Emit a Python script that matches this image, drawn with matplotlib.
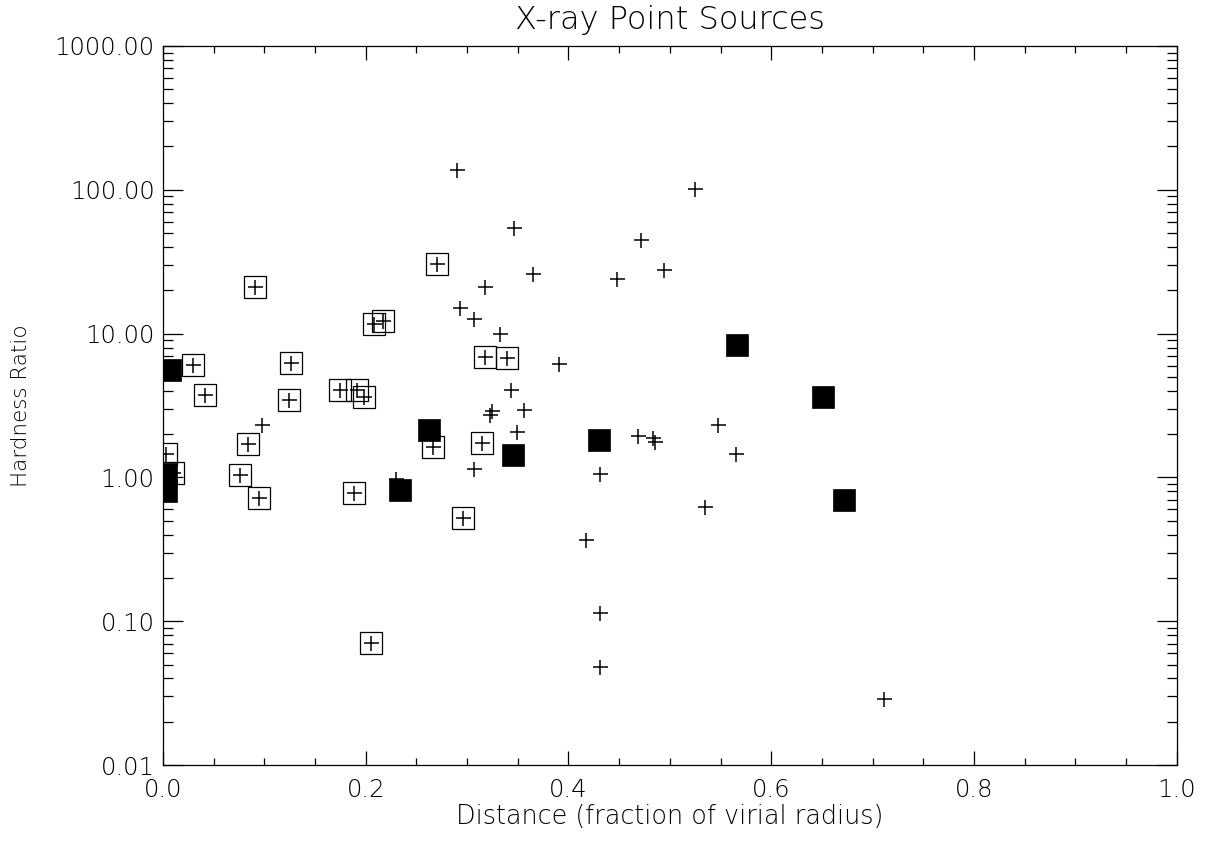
import numpy as np
import matplotlib
matplotlib.use("Agg")
import matplotlib.pyplot as plt
from matplotlib.ticker import FixedLocator, LogLocator, NullFormatter, FuncFormatter

# sources shown only as crosses
cross_x = [0.290, 0.525, 0.346, 0.472, 0.494, 0.365, 0.448, 0.318, 0.293, 0.307,
           0.332, 0.391, 0.343, 0.325, 0.323, 0.356, 0.349, 0.469, 0.483, 0.485,
           0.547, 0.565, 0.307, 0.431, 0.535, 0.417, 0.431, 0.431, 0.711, 0.098,
           0.230]
cross_y = [138.0, 101.0, 54.0, 45.0, 27.9, 25.9, 24.1, 21.2, 15.0, 12.7,
           10.0, 6.1, 4.07, 2.88, 2.70, 2.92, 2.06, 1.94, 1.89, 1.75,
           2.31, 1.46, 1.15, 1.05, 0.622, 0.369, 0.114, 0.048, 0.0289, 2.30,
           0.97]

# sources with a cross inside an open box
box_x = [0.270, 0.091, 0.208, 0.217, 0.030, 0.126, 0.0415, 0.124, 0.175, 0.191,
         0.198, 0.318, 0.339, 0.084, 0.266, 0.315, 0.003, 0.0096, 0.0755, 0.0945,
         0.188, 0.296, 0.205]
box_y = [30.3, 21.1, 11.6, 12.2, 6.09, 6.28, 3.72, 3.47, 4.03, 4.06,
         3.62, 6.87, 6.76, 1.71, 1.64, 1.73, 1.46, 1.07, 1.04, 0.714,
         0.783, 0.521, 0.0706]

# sources drawn as filled boxes
fill_x = [0.007, 0.003, 0.003, 0.234, 0.262, 0.345, 0.430, 0.566, 0.651, 0.672]
fill_y = [5.62, 1.06, 0.80, 0.82, 2.12, 1.43, 1.81, 8.37, 3.64, 0.70]

plt.rcParams['font.family'] = ['DejaVu Sans']
plt.rcParams['font.weight'] = 'light'
plt.rcParams['axes.titleweight'] = 'light'
plt.rcParams['axes.labelweight'] = 'light'

fig = plt.figure(figsize=(12.05, 8.42), dpi=100)
ax = fig.add_axes([0.1353, 0.0914, 0.9765 - 0.1353, 0.9454 - 0.0914])

ax.plot(cross_x, cross_y, '+', color='k', ms=10.8, mew=1.1, ls='none')
ax.plot(box_x, box_y, '+', color='k', ms=10.8, mew=1.1, ls='none')
ax.plot(box_x, box_y, 's', mfc='none', mec='k', ms=16.5, mew=0.9, ls='none')
ax.plot(fill_x, fill_y, 's', mfc='k', mec='k', ms=16.5, mew=0.5, ls='none')

ax.set_yscale('log')
ax.set_xlim(0, 1)
ax.set_ylim(0.01, 1000)

ax.xaxis.set_major_locator(FixedLocator([0, 0.2, 0.4, 0.6, 0.8, 1.0]))
ax.xaxis.set_minor_locator(FixedLocator(np.arange(0, 1.001, 0.05)))
ax.xaxis.set_major_formatter(FuncFormatter(lambda v, p: '%.1f' % v))
ax.yaxis.set_major_locator(FixedLocator([0.01, 0.1, 1, 10, 100, 1000]))
ax.yaxis.set_minor_locator(LogLocator(base=10, subs=np.arange(2, 10), numticks=20))
ax.yaxis.set_minor_formatter(NullFormatter())
ax.yaxis.set_major_formatter(FuncFormatter(lambda v, p: '%.2f' % v))

ax.tick_params(which='both', direction='in', top=True, right=True, width=0.9,
               labelsize=17.5, colors='k')
ax.tick_params(axis='x', which='major', length=10, pad=9)
ax.tick_params(axis='x', which='minor', length=5)
ax.tick_params(axis='y', which='major', length=14.5, pad=6)
ax.tick_params(axis='y', which='minor', length=7.2)
for s in ax.spines.values():
    s.set_linewidth(0.9)

ax.set_title('X-ray Point Sources', fontsize=23, pad=12)
ax.set_xlabel('Distance (fraction of virial radius)', fontsize=18.4, labelpad=2)
ax.set_ylabel('Hardness Ratio', fontsize=15.5, labelpad=17)

fig.savefig('out.png', dpi=100)
